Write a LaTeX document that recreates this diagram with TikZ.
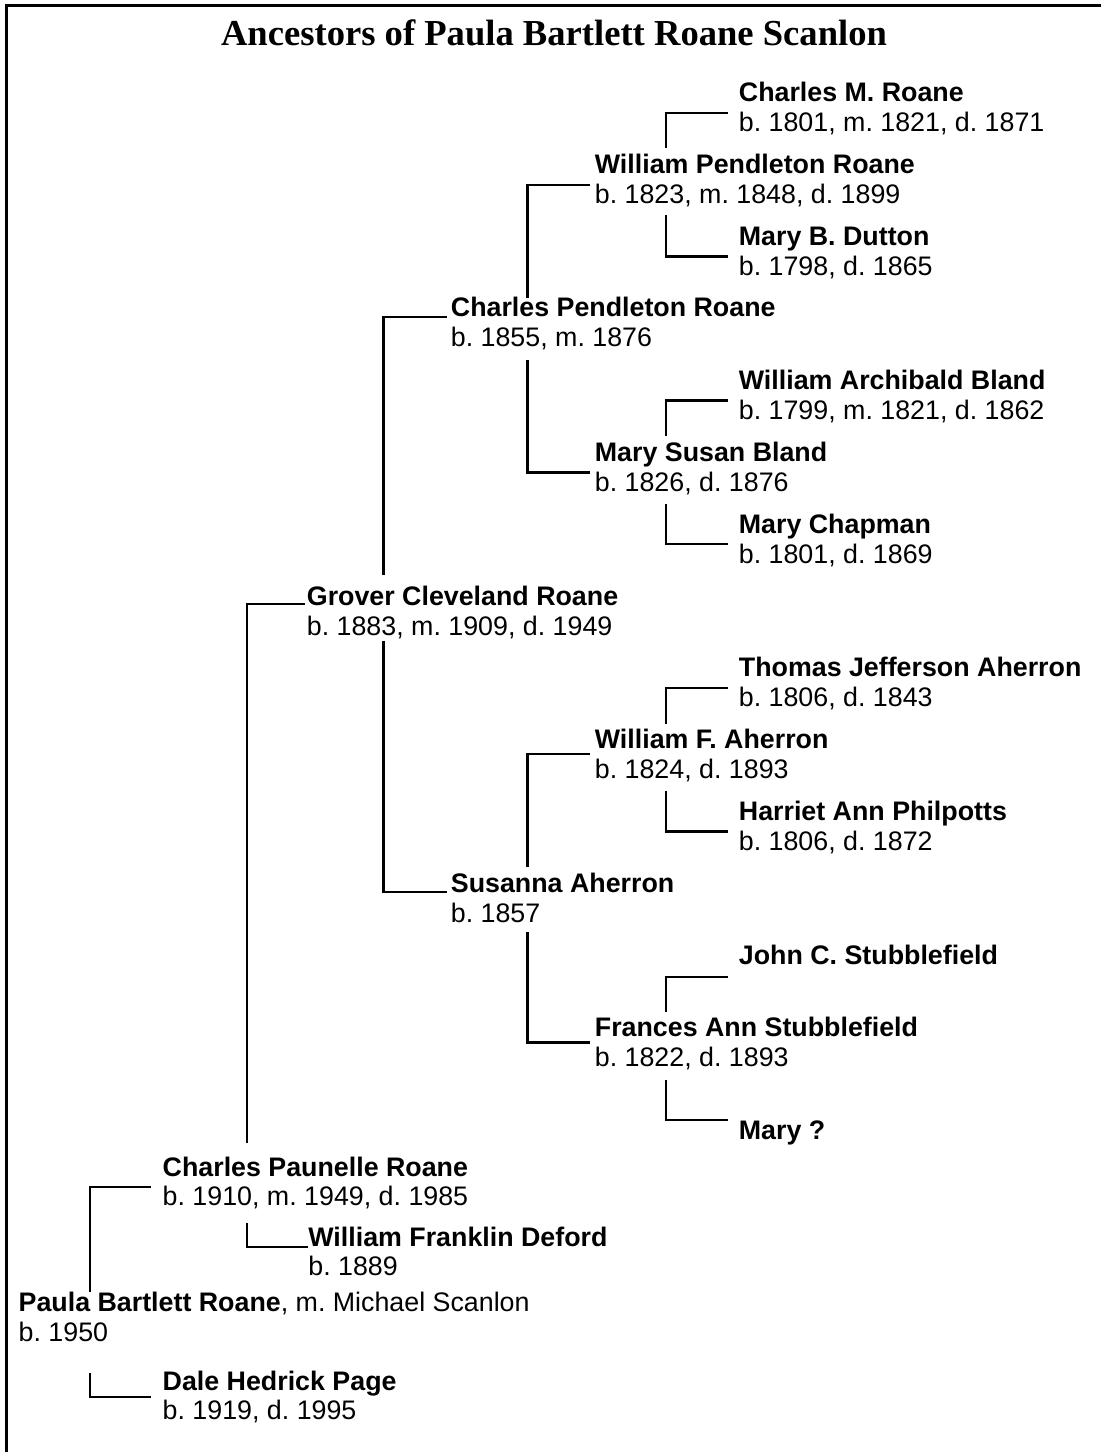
\documentclass[tikz,border=0pt]{standalone}
\usepackage{fontspec}
\setmainfont{Liberation Sans}
\newfontfamily\titlefont{Liberation Serif}
\frenchspacing

\begin{document}
\begin{tikzpicture}[x=0.5pt, y=-0.5pt,
    anc/.style={anchor=base west, inner sep=0pt, font=\fontsize{13.4}{15}\selectfont\bfseries},
    yrs/.style={anchor=base west, inner sep=0pt, font=\fontsize{13.4}{15}\selectfont},
    link/.style={line width=1.15pt}]
    \useasboundingbox (0,0) rectangle (1101,1452);

    % Frame and title
      \draw[line width=1.5pt] (6.5,1460) -- (6.5,5.7) -- (1110,5.7);
      \node[anchor=base, inner sep=0pt, font=\titlefont\fontsize{18.3}{20}\selectfont\bfseries] (title) at (554,45) {Ancestors of Paula Bartlett Roane Scanlon};

    % Ancestors
      \node[anc] (cmr) at (738.5,101.7) {Charles M. Roane};
      \node[yrs] (cmr-y) at ([shift={(0,30)}]cmr.base west) {b. 1801, m. 1821, d. 1871};
      \node[anc] (wpr) at (594.5,173.3) {William Pendleton Roane};
      \node[yrs] (wpr-y) at ([shift={(0,30)}]wpr.base west) {b. 1823, m. 1848, d. 1899};
      \node[anc] (mbd) at (738.5,245.5) {Mary B. Dutton};
      \node[yrs] (mbd-y) at ([shift={(0,30)}]mbd.base west) {b. 1798, d. 1865};
      \node[anc] (cpr) at (450.5,316.7) {Charles Pendleton Roane};
      \node[yrs] (cpr-y) at ([shift={(0,30)}]cpr.base west) {b. 1855, m. 1876};
      \node[anc] (wab) at (738.5,389.5) {William Archibald Bland};
      \node[yrs] (wab-y) at ([shift={(0,30)}]wab.base west) {b. 1799, m. 1821, d. 1862};
      \node[anc] (msb) at (594.5,461.5) {Mary Susan Bland};
      \node[yrs] (msb-y) at ([shift={(0,30)}]msb.base west) {b. 1826, d. 1876};
      \node[anc] (mch) at (738.5,533.3) {Mary Chapman};
      \node[yrs] (mch-y) at ([shift={(0,30)}]mch.base west) {b. 1801, d. 1869};
      \node[anc] (gcr) at (306.5,605.5) {Grover Cleveland Roane};
      \node[yrs] (gcr-y) at ([shift={(0,30)}]gcr.base west) {b. 1883, m. 1909, d. 1949};
      \node[anc] (tja) at (738.5,676.8) {Thomas Jefferson Aherron};
      \node[yrs] (tja-y) at ([shift={(0,30)}]tja.base west) {b. 1806, d. 1843};
      \node[anc] (wfa) at (594.5,748.5) {William F. Aherron};
      \node[yrs] (wfa-y) at ([shift={(0,30)}]wfa.base west) {b. 1824, d. 1893};
      \node[anc] (hap) at (738.5,820.4) {Harriet Ann Philpotts};
      \node[yrs] (hap-y) at ([shift={(0,30)}]hap.base west) {b. 1806, d. 1872};
      \node[anc] (sah) at (450.5,892) {Susanna Aherron};
      \node[yrs] (sah-y) at ([shift={(0,30)}]sah.base west) {b. 1857};
      \node[anc] (jcs) at (738.5,964.5) {John C. Stubblefield};
      \node[anc] (fas) at (594.5,1036) {Frances Ann Stubblefield};
      \node[yrs] (fas-y) at ([shift={(0,30)}]fas.base west) {b. 1822, d. 1893};
      \node[anc] (mry) at (738.5,1139) {Mary ?};
      \node[anc] (cpa) at (162.3,1176.7) {Charles Paunelle Roane};
      \node[yrs] (cpa-y) at ([shift={(0,29)}]cpa.base west) {b. 1910, m. 1949, d. 1985};
      \node[anc] (wfd) at (308,1246.7) {William Franklin Deford};
      \node[yrs] (wfd-y) at ([shift={(0,29)}]wfd.base west) {b. 1889};
      \node[anc] (pbr) at (18.3,1311.7) {Paula Bartlett Roane\mdseries, m. Michael Scanlon};
      \node[yrs] (pbr-y) at ([shift={(0,30)}]pbr.base west) {b. 1950};
      \node[anc] (dhp) at (162.3,1390) {Dale Hedrick Page};
      \node[yrs] (dhp-y) at ([shift={(0,29)}]dhp.base west) {b. 1919, d. 1995};

    % Links, Roane side
      \draw[link] ([shift={(71.5,-25)}]wpr.base west) |- ([shift={(-10.5,11)}]cmr.base west);
      \draw[link] ([shift={(71.5,42)}]wpr.base west) |- ([shift={(-10.5,11)}]mbd.base west);
      \draw[link] ([shift={(77,-19)}]cpr.base west) |- ([shift={(-4.5,12)}]wpr.base west);
      \draw[link] ([shift={(77,43)}]cpr.base west) |- ([shift={(-4.5,11)}]msb.base west);
      \draw[link] ([shift={(71.5,-25.5)}]msb.base west) |- ([shift={(-10.5,11)}]wab.base west);
      \draw[link] ([shift={(71.5,42)}]msb.base west) |- ([shift={(-10.5,11)}]mch.base west);
      \draw[link] ([shift={(77,-30.5)}]gcr.base west) |- ([shift={(-4,0.5)}]cpr.base west);
      \draw[link] ([shift={(77,35.5)}]gcr.base west) |- ([shift={(-3.5,0)}]sah.base west);
    % Links, Aherron side
      \draw[link] ([shift={(71.5,-25)}]wfa.base west) |- ([shift={(-10.5,11)}]tja.base west);
      \draw[link] ([shift={(71.5,42)}]wfa.base west) |- ([shift={(-10.5,11)}]hap.base west);
      \draw[link] ([shift={(77,-25)}]sah.base west) |- ([shift={(-4.5,5.5)}]wfa.base west);
      \draw[link] ([shift={(77,40)}]sah.base west) |- ([shift={(-4.5,6.5)}]fas.base west);
      \draw[link] ([shift={(71.5,-24.5)}]fas.base west) |- ([shift={(-10.5,12.5)}]jcs.base west);
      \draw[link] ([shift={(71.5,44)}]fas.base west) |- ([shift={(-10.5,-19)}]mry.base west);
    % Links, parents of Paula
      \draw[link] ([shift={(84.4,-33.7)}]cpa.base west) |- ([shift={(-1.5,-1.5)}]gcr.base west);
      \draw[link] ([shift={(84.4,46.6)}]cpa.base west) |- (wfd.base west);
      \draw[link] ([shift={(71.7,-19.5)}]pbr.base west) |- ([shift={(-11.6,10)}]cpa.base west);
      \draw[link] ([shift={(71.7,61.6)}]pbr.base west) |- ([shift={(-11.6,6.7)}]dhp.base west);
\end{tikzpicture}
\end{document}
